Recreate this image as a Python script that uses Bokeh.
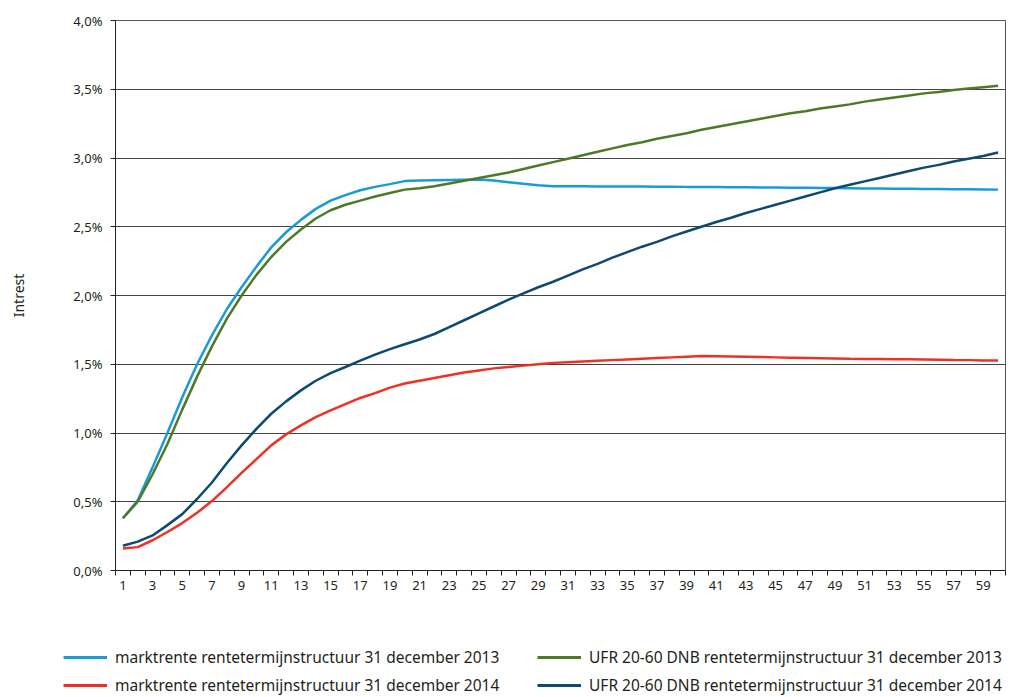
from bokeh.plotting import figure
from bokeh.models import (Range1d, FixedTicker, CustomJSTickFormatter, Legend, LegendItem)
from bokeh.embed import file_html
from bokeh.resources import INLINE

years = list(range(1, 61))

markt_2013 = [0.38, 0.51, 0.75, 1.00, 1.26, 1.50, 1.71, 1.90, 2.06, 2.21,
              2.35, 2.46, 2.55, 2.63, 2.69, 2.73, 2.765, 2.79, 2.81, 2.832,
              2.836, 2.838, 2.84, 2.842, 2.844, 2.836, 2.824, 2.812, 2.802, 2.795,
              2.794, 2.794, 2.793, 2.793, 2.792, 2.792, 2.791, 2.791, 2.790, 2.790,
              2.789, 2.788, 2.787, 2.786, 2.785, 2.784, 2.783, 2.782, 2.781, 2.780,
              2.779, 2.778, 2.777, 2.776, 2.775, 2.774, 2.773, 2.772, 2.771, 2.770]

ufr_2013 = [0.38, 0.50, 0.70, 0.92, 1.17, 1.41, 1.63, 1.83, 2.00, 2.15,
            2.28, 2.39, 2.48, 2.56, 2.62, 2.66, 2.69, 2.72, 2.745, 2.77,
            2.78, 2.795, 2.815, 2.835, 2.855, 2.875, 2.895, 2.92, 2.945, 2.97,
            2.995, 3.02, 3.045, 3.07, 3.095, 3.115, 3.14, 3.16, 3.18, 3.205,
            3.225, 3.245, 3.265, 3.285, 3.305, 3.325, 3.34, 3.36, 3.375, 3.39,
            3.41, 3.425, 3.44, 3.455, 3.47, 3.48, 3.495, 3.505, 3.515, 3.525]

markt_2014 = [0.16, 0.17, 0.22, 0.28, 0.345, 0.42, 0.505, 0.605, 0.71, 0.81,
              0.91, 0.99, 1.055, 1.115, 1.165, 1.21, 1.255, 1.29, 1.33, 1.36,
              1.38, 1.40, 1.42, 1.44, 1.455, 1.47, 1.48, 1.49, 1.50, 1.51,
              1.515, 1.52, 1.525, 1.53, 1.535, 1.54, 1.545, 1.55, 1.555, 1.56,
              1.558, 1.556, 1.554, 1.552, 1.550, 1.548, 1.546, 1.544, 1.542, 1.540,
              1.539, 1.538, 1.537, 1.536, 1.535, 1.533, 1.531, 1.530, 1.528, 1.527]

ufr_2014 = [0.18, 0.21, 0.255, 0.33, 0.41, 0.52, 0.64, 0.78, 0.91, 1.03,
            1.14, 1.23, 1.31, 1.38, 1.435, 1.48, 1.527, 1.57, 1.61, 1.645,
            1.68, 1.72, 1.77, 1.82, 1.87, 1.92, 1.97, 2.015, 2.06, 2.10,
            2.145, 2.19, 2.23, 2.275, 2.315, 2.355, 2.39, 2.43, 2.465, 2.50,
            2.535, 2.565, 2.60, 2.63, 2.66, 2.69, 2.72, 2.75, 2.78, 2.805,
            2.83, 2.855, 2.88, 2.905, 2.93, 2.95, 2.975, 2.995, 3.015, 3.04]

labels = ["marktrente rentetermijnstructuur 31 december 2013",
          "marktrente rentetermijnstructuur 31 december 2014",
          "UFR 20-60 DNB rentetermijnstructuur 31 december 2013",
          "UFR 20-60 DNB rentetermijnstructuur 31 december 2014"]
colors = ["#1a9ad6", "#ee3124", "#4e7a27", "#0d4a70"]
series = [markt_2013, markt_2014, ufr_2013, ufr_2014]

x_ticks = list(range(1, 60, 2))
y_ticks = [0.0, 0.5, 1.0, 1.5, 2.0, 2.5, 3.0, 3.5, 4.0]

FONT = "Noto Sans"
TXT = "#231f20"

p = figure(width=1010, height=610, output_backend="svg", toolbar_location=None,
           x_range=Range1d(0.5, 60.5), y_range=Range1d(0, 4.0))
p.min_border_left = 115
p.min_border_right = 5
p.min_border_top = 20
p.min_border_bottom = 40
p.outline_line_color = "#555555"
p.outline_line_width = 1

p.xaxis.ticker = FixedTicker(ticks=x_ticks, minor_ticks=[i + 0.5 for i in range(0, 61)])
p.xaxis.major_tick_out = 0
p.xaxis.major_tick_in = 0
p.xaxis.minor_tick_out = 5
p.xaxis.minor_tick_in = 0
p.xaxis.major_label_standoff = 5
p.xgrid.visible = False

p.yaxis.ticker = FixedTicker(ticks=y_ticks, minor_ticks=[])
p.yaxis.formatter = CustomJSTickFormatter(code="return tick.toFixed(1).replace('.', ',') + '%';")
p.yaxis.major_tick_out = 5
p.yaxis.major_tick_in = 0
p.yaxis.major_label_standoff = 8
p.yaxis.axis_label = "Intrest"
p.yaxis.axis_label_standoff = 42
p.yaxis.axis_label_text_font_style = "normal"
p.yaxis.axis_label_text_font_size = "14px"
p.yaxis.axis_label_text_font = FONT
p.yaxis.axis_label_text_color = TXT
p.ygrid.grid_line_color = "#444444"
p.ygrid.grid_line_width = 1

for ax in (p.xaxis, p.yaxis):
    ax.axis_line_color = "#222222"
    ax.major_tick_line_color = "#222222"
    ax.minor_tick_line_color = "#222222"
    ax.major_label_text_font = FONT
    ax.major_label_text_font_size = "13px"
    ax.major_label_text_color = TXT

for vals, col in zip(series, colors):
    p.line(years, vals, line_color=col, line_width=2.5)

# legend panel below the chart (same series, drawn outside its visible range)
q = figure(width=1010, height=87, output_backend="svg", toolbar_location=None,
           x_range=Range1d(100, 101), y_range=Range1d(100, 101),
           x_axis_location=None, y_axis_location=None)
q.min_border_left = 0
q.min_border_right = 0
q.min_border_top = 0
q.min_border_bottom = 0
q.grid.visible = False
q.outline_line_color = None

leg_renderers = [q.line(years, vals, line_color=col, line_width=3)
                 for vals, col in zip(series, colors)]
items = [LegendItem(label=lab, renderers=[r]) for lab, r in zip(labels, leg_renderers)]
legend = Legend(items=items, ncols=2, location=(63, 1), orientation="vertical",
                glyph_width=44, glyph_height=16, label_standoff=8, label_width=416,
                label_height=20, spacing=6, padding=0, margin=0,
                border_line_alpha=0, background_fill_alpha=0,
                label_text_font=FONT, label_text_font_size="15.5px", label_text_color=TXT)
q.add_layout(legend, "center")

open("out.html", "w").write(file_html([p, q], INLINE))
